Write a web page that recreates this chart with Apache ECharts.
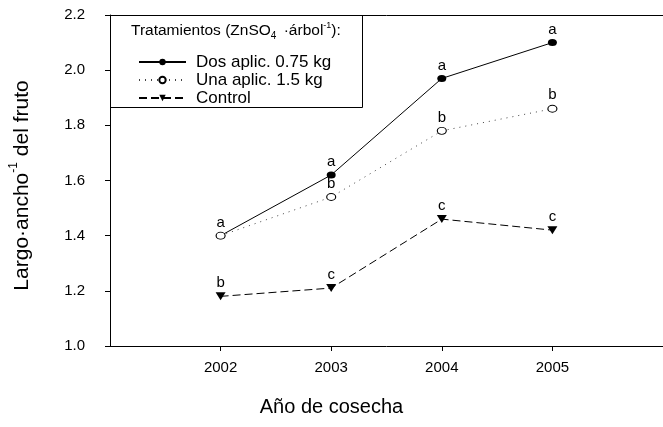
<!DOCTYPE html>
<html>
<head>
<meta charset="utf-8">
<script src="https://cdn.jsdelivr.net/npm/echarts@6/dist/echarts.min.js"></script>
<style>html,body{margin:0;padding:0;background:#fff;}#c{width:663px;height:427px;}</style>
</head>
<body>
<div id="c"></div>
<script>
const years = [2002, 2003, 2004, 2005];
const yTicks = [1.0, 1.2, 1.4, 1.6, 1.8, 2.0, 2.2];
const dosValues = [1.40, 1.62, 1.97, 2.10];
const unaValues = [1.40, 1.54, 1.78, 1.86];
const controlValues = [1.18, 1.21, 1.46, 1.42];
const dosLetters = ['a', 'a', 'a', 'a'];
const unaLetters = ['', 'b', 'b', 'b']; // 2002 letter 'a' shared with Dos (drawn once)
const controlLetters = ['b', 'c', 'c', 'c'];
const seriesNames = ['Dos aplic. 0.75 kg', 'Una aplic. 1.5 kg', 'Control'];

const FONT = 'Liberation Sans, Arial, sans-serif';
const pairs = v => years.map((y, i) => [y, v[i]]);
const lab = letters => ({
  show: true, position: 'top', distance: 2,
  color: '#000', fontFamily: FONT, fontSize: 15,
  formatter: p => letters[p.dataIndex]
});

const chart = echarts.init(document.getElementById('c'), null, {renderer: 'canvas'});
chart.setOption({
  animation: false,
  backgroundColor: '#fff',
  grid: {left: 110, top: 15, bottom: 81, right: -9, containLabel: false},
  xAxis: [{
    type: 'value', min: 2001, max: 2006, interval: 1,
    axisLine: {show: true, onZero: false, lineStyle: {color: '#000', width: 1}},
    axisTick: {show: true, length: 5, lineStyle: {color: '#000'}, customValues: years},
    axisLabel: {color: '#000', fontFamily: FONT, fontSize: 15, margin: 14, customValues: years,
      formatter: v => String(v)},
    splitLine: {show: false}
  }, {
    type: 'value', position: 'top', min: 2001, max: 2006,
    axisLine: {show: true, onZero: false, lineStyle: {color: '#000', width: 1}},
    axisTick: {show: false}, axisLabel: {show: false}, splitLine: {show: false}
  }],
  yAxis: {
    type: 'value', min: 1.0, max: 2.2, interval: 0.2,
    name: '{n|Largo·ancho}{s|-1}{n| del fruto}', nameLocation: 'middle', nameGap: 77, nameRotate: 90,
    nameTextStyle: {color: '#000', fontFamily: FONT, fontSize: 21, padding: [0, 10, 0, 0],
      rich: {n: {fontFamily: FONT, fontSize: 21, color: '#000', verticalAlign: 'bottom', lineHeight: 25},
             s: {fontFamily: FONT, fontSize: 12, color: '#000', verticalAlign: 'top', lineHeight: 25}}},
    axisLine: {show: true, lineStyle: {color: '#000', width: 1}},
    axisTick: {show: true, length: 5, lineStyle: {color: '#000'}},
    axisLabel: {color: '#000', fontFamily: FONT, fontSize: 15, margin: 25,
      customValues: yTicks, formatter: v => v.toFixed(1)},
    splitLine: {show: false}
  },
  legend: {
    orient: 'vertical', left: 133, top: 48, itemWidth: 47, itemHeight: 8, itemGap: 0,
    textStyle: {color: '#000', fontFamily: FONT, fontSize: 17, lineHeight: 18, padding: [0, 0, 0, 5]},
    data: seriesNames
  },
  graphic: [{
    type: 'rect', shape: {x: 110.5, y: 15.5, width: 252, height: 92},
    style: {fill: 'none', stroke: '#000', lineWidth: 1}, z: 1
  }, {
    type: 'text', left: 131, top: 21, z: 2,
    style: {
      text: '{n|Tratamientos (ZnSO}{sub|4}{n| ·árbol}{sup|-1}{n|):}',
      rich: {
        n: {fontFamily: FONT, fontSize: 15.5, fill: '#000', verticalAlign: 'middle', lineHeight: 20},
        sub: {fontFamily: FONT, fontSize: 10, fill: '#000', verticalAlign: 'bottom', lineHeight: 20, padding: [0, 3, 0, 0]},
        sup: {fontFamily: FONT, fontSize: 9, fill: '#000', verticalAlign: 'top', lineHeight: 20}
      }
    }
  }, {
    type: 'text', left: 'center', top: 397, z: 2,
    x: 347 - 663 / 2,
    style: {text: 'Año de cosecha', fontFamily: FONT, fontSize: 20, fill: '#000'}
  }],
  series: [{
    name: seriesNames[0], type: 'line', data: pairs(dosValues),
    symbol: 'circle', symbolSize: [9, 7],
    itemStyle: {color: '#000'}, lineStyle: {color: '#000', width: 1, type: 'solid'},
    label: lab(dosLetters), z: 3
  }, {
    name: seriesNames[1], type: 'line', data: pairs(unaValues),
    symbol: 'circle', symbolSize: [9, 7],
    itemStyle: {color: '#fff', borderColor: '#000', borderWidth: 1},
    lineStyle: {color: '#444', width: 1, type: [1, 5]},
    label: lab(unaLetters), z: 4
  }, {
    name: seriesNames[2], type: 'line', data: pairs(controlValues),
    symbol: 'triangle', symbolRotate: 180, symbolSize: [10, 8],
    itemStyle: {color: '#000'}, lineStyle: {color: '#000', width: 1, type: [8, 4]},
    label: lab(controlLetters), z: 3
  }]
});
</script>
</body>
</html>
